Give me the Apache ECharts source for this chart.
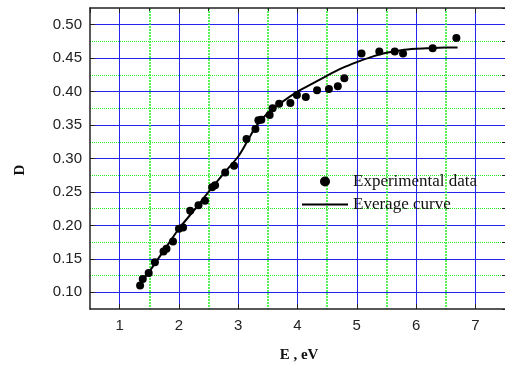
<!DOCTYPE html>
<html>
<head>
<meta charset="utf-8">
<script src="https://cdn.jsdelivr.net/npm/echarts@6/dist/echarts.min.js"></script>
<style>
  html, body { margin: 0; padding: 0; background: #fff; }
  #chart { width: 505px; height: 365px; }
</style>
</head>
<body>
<div id="chart"></div>
<script>
// experimental points (E in eV, D)
const expE = [1.345, 1.39, 1.49, 1.595, 1.74, 1.79, 1.90, 2.0, 2.07, 2.19, 2.33, 2.44, 2.56, 2.61, 2.78, 2.93,
  3.14, 3.29, 3.34, 3.39, 3.53, 3.58, 3.69, 3.88, 3.99, 4.14, 4.33, 4.53, 4.68, 4.79,
  5.08, 5.38, 5.64, 5.78, 6.28, 6.68]
const expD = [0.110, 0.120, 0.129, 0.145, 0.161, 0.165, 0.176, 0.195, 0.197, 0.222, 0.230, 0.237, 0.257, 0.260, 0.279, 0.289,
  0.329, 0.344, 0.357, 0.358, 0.365, 0.375, 0.382, 0.383, 0.395, 0.392, 0.402, 0.404, 0.408, 0.420,
  0.457, 0.460, 0.460, 0.457, 0.465, 0.480]

// average curve
const curveE = [1.32, 1.5, 1.75, 2.0, 2.25, 2.5, 2.75, 3.0, 3.15, 3.3, 3.5, 3.75, 4.0, 4.25, 4.5, 4.75,
  5.0, 5.25, 5.5, 5.75, 6.0, 6.25, 6.5, 6.7]
const curveD = [0.111, 0.131, 0.163, 0.195, 0.222, 0.250, 0.277, 0.303, 0.325, 0.348, 0.368, 0.385, 0.400, 0.412, 0.424, 0.435,
  0.444, 0.452, 0.458, 0.462, 0.464, 0.465, 0.466, 0.466]

const xRange = [0.5, 7.5]
const yRange = [0.075, 0.525]

const blue = '#2424f0'
const green = '#22ee22'
const axisColor = '#222'
const sans = '"Liberation Sans", Arial, sans-serif'
const serif = '"Liberation Serif", "Times New Roman", serif'

const chart = echarts.init(document.getElementById('chart'))

chart.setOption({
  animation: false,
  grid: { left: 90, right: -5, top: 8, bottom: 56 },
  legend: {
    orient: 'vertical',
    left: 302,
    top: 173,
    padding: 0,
    itemGap: 6,
    itemWidth: 46,
    itemHeight: 10,
    textStyle: { fontFamily: serif, fontSize: 17, color: '#111' },
    data: [
      { name: 'Experimental data', icon: 'circle' },
      { name: 'Everage curve', icon: 'path://M0,0 L46,0 L46,2 L0,2 Z' }
    ]
  },
  xAxis: [
    {
      // major: integers, blue grid
      type: 'value', min: xRange[0], max: xRange[1], splitNumber: 7,
      axisLine: { lineStyle: { color: axisColor, width: 1.5 } },
      axisTick: { inside: true, length: 5, lineStyle: { color: axisColor } },
      axisLabel: { showMinLabel: false, showMaxLabel: false, margin: 9, fontFamily: sans, fontSize: 15, color: '#222' },
      splitLine: { show: true, showMinLine: false, showMaxLine: false, lineStyle: { color: blue, width: 1 } }
    },
    {
      // minor: half integers, green dotted grid
      type: 'value', min: xRange[0], max: xRange[1], interval: 1,
      axisLine: { show: false },
      axisTick: { inside: true, length: 3, lineStyle: { color: axisColor } },
      axisLabel: { show: false },
      splitLine: { show: true, showMinLine: false, showMaxLine: false, lineStyle: { color: green, type: [2, 1], width: 1.5 } }
    },
    {
      // top frame
      type: 'value', position: 'top', min: xRange[0], max: xRange[1], splitNumber: 7,
      axisLine: { lineStyle: { color: axisColor, width: 1.5 } },
      axisTick: { inside: true, length: 5, lineStyle: { color: axisColor } },
      axisLabel: { show: false },
      splitLine: { show: false }
    }
  ],
  yAxis: [
    {
      type: 'value', min: yRange[0], max: yRange[1], splitNumber: 9,
      axisLine: { show: true, lineStyle: { color: axisColor, width: 1.5 } },
      axisTick: { show: true, inside: true, length: 5, lineStyle: { color: axisColor } },
      axisLabel: {
        showMinLabel: false, showMaxLabel: false, margin: 8,
        fontFamily: sans, fontSize: 15, color: '#222',
        formatter: v => v.toFixed(2)
      },
      splitLine: { show: true, showMinLine: false, showMaxLine: false, lineStyle: { color: blue, width: 1 } }
    },
    {
      type: 'value', min: yRange[0], max: yRange[1], interval: 0.05,
      axisLine: { show: false },
      axisTick: { show: true, inside: true, length: 3, lineStyle: { color: axisColor } },
      axisLabel: { show: false },
      splitLine: { show: true, showMinLine: false, showMaxLine: false, lineStyle: { color: green, type: 'dotted', width: 1 } }
    }
  ],
  graphic: [
    {
      type: 'text', x: 20, y: 170, rotation: Math.PI / 2,
      style: { text: 'D', font: 'bold 15px ' + serif, fill: '#111', align: 'center', verticalAlign: 'middle' }
    },
    {
      type: 'text', x: 299, y: 355,
      style: { text: 'E , eV', font: 'bold 15px ' + serif, fill: '#111', align: 'center', verticalAlign: 'middle' }
    }
  ],
  series: [
    {
      name: 'Experimental data',
      type: 'scatter',
      xAxisIndex: 0, yAxisIndex: 0,
      symbol: 'circle',
      symbolSize: 8,
      itemStyle: { color: '#000', opacity: 1 },
      data: expE.map((e, i) => [e, expD[i]]),
      z: 3
    },
    {
      name: 'Everage curve',
      type: 'line',
      xAxisIndex: 0, yAxisIndex: 0,
      showSymbol: false,
      symbol: 'none',
      smooth: 0.3,
      lineStyle: { color: '#000', width: 2 },
      itemStyle: { color: '#000' },
      data: curveE.map((e, i) => [e, curveD[i]]),
      z: 4
    }
  ]
})
</script>
</body>
</html>
